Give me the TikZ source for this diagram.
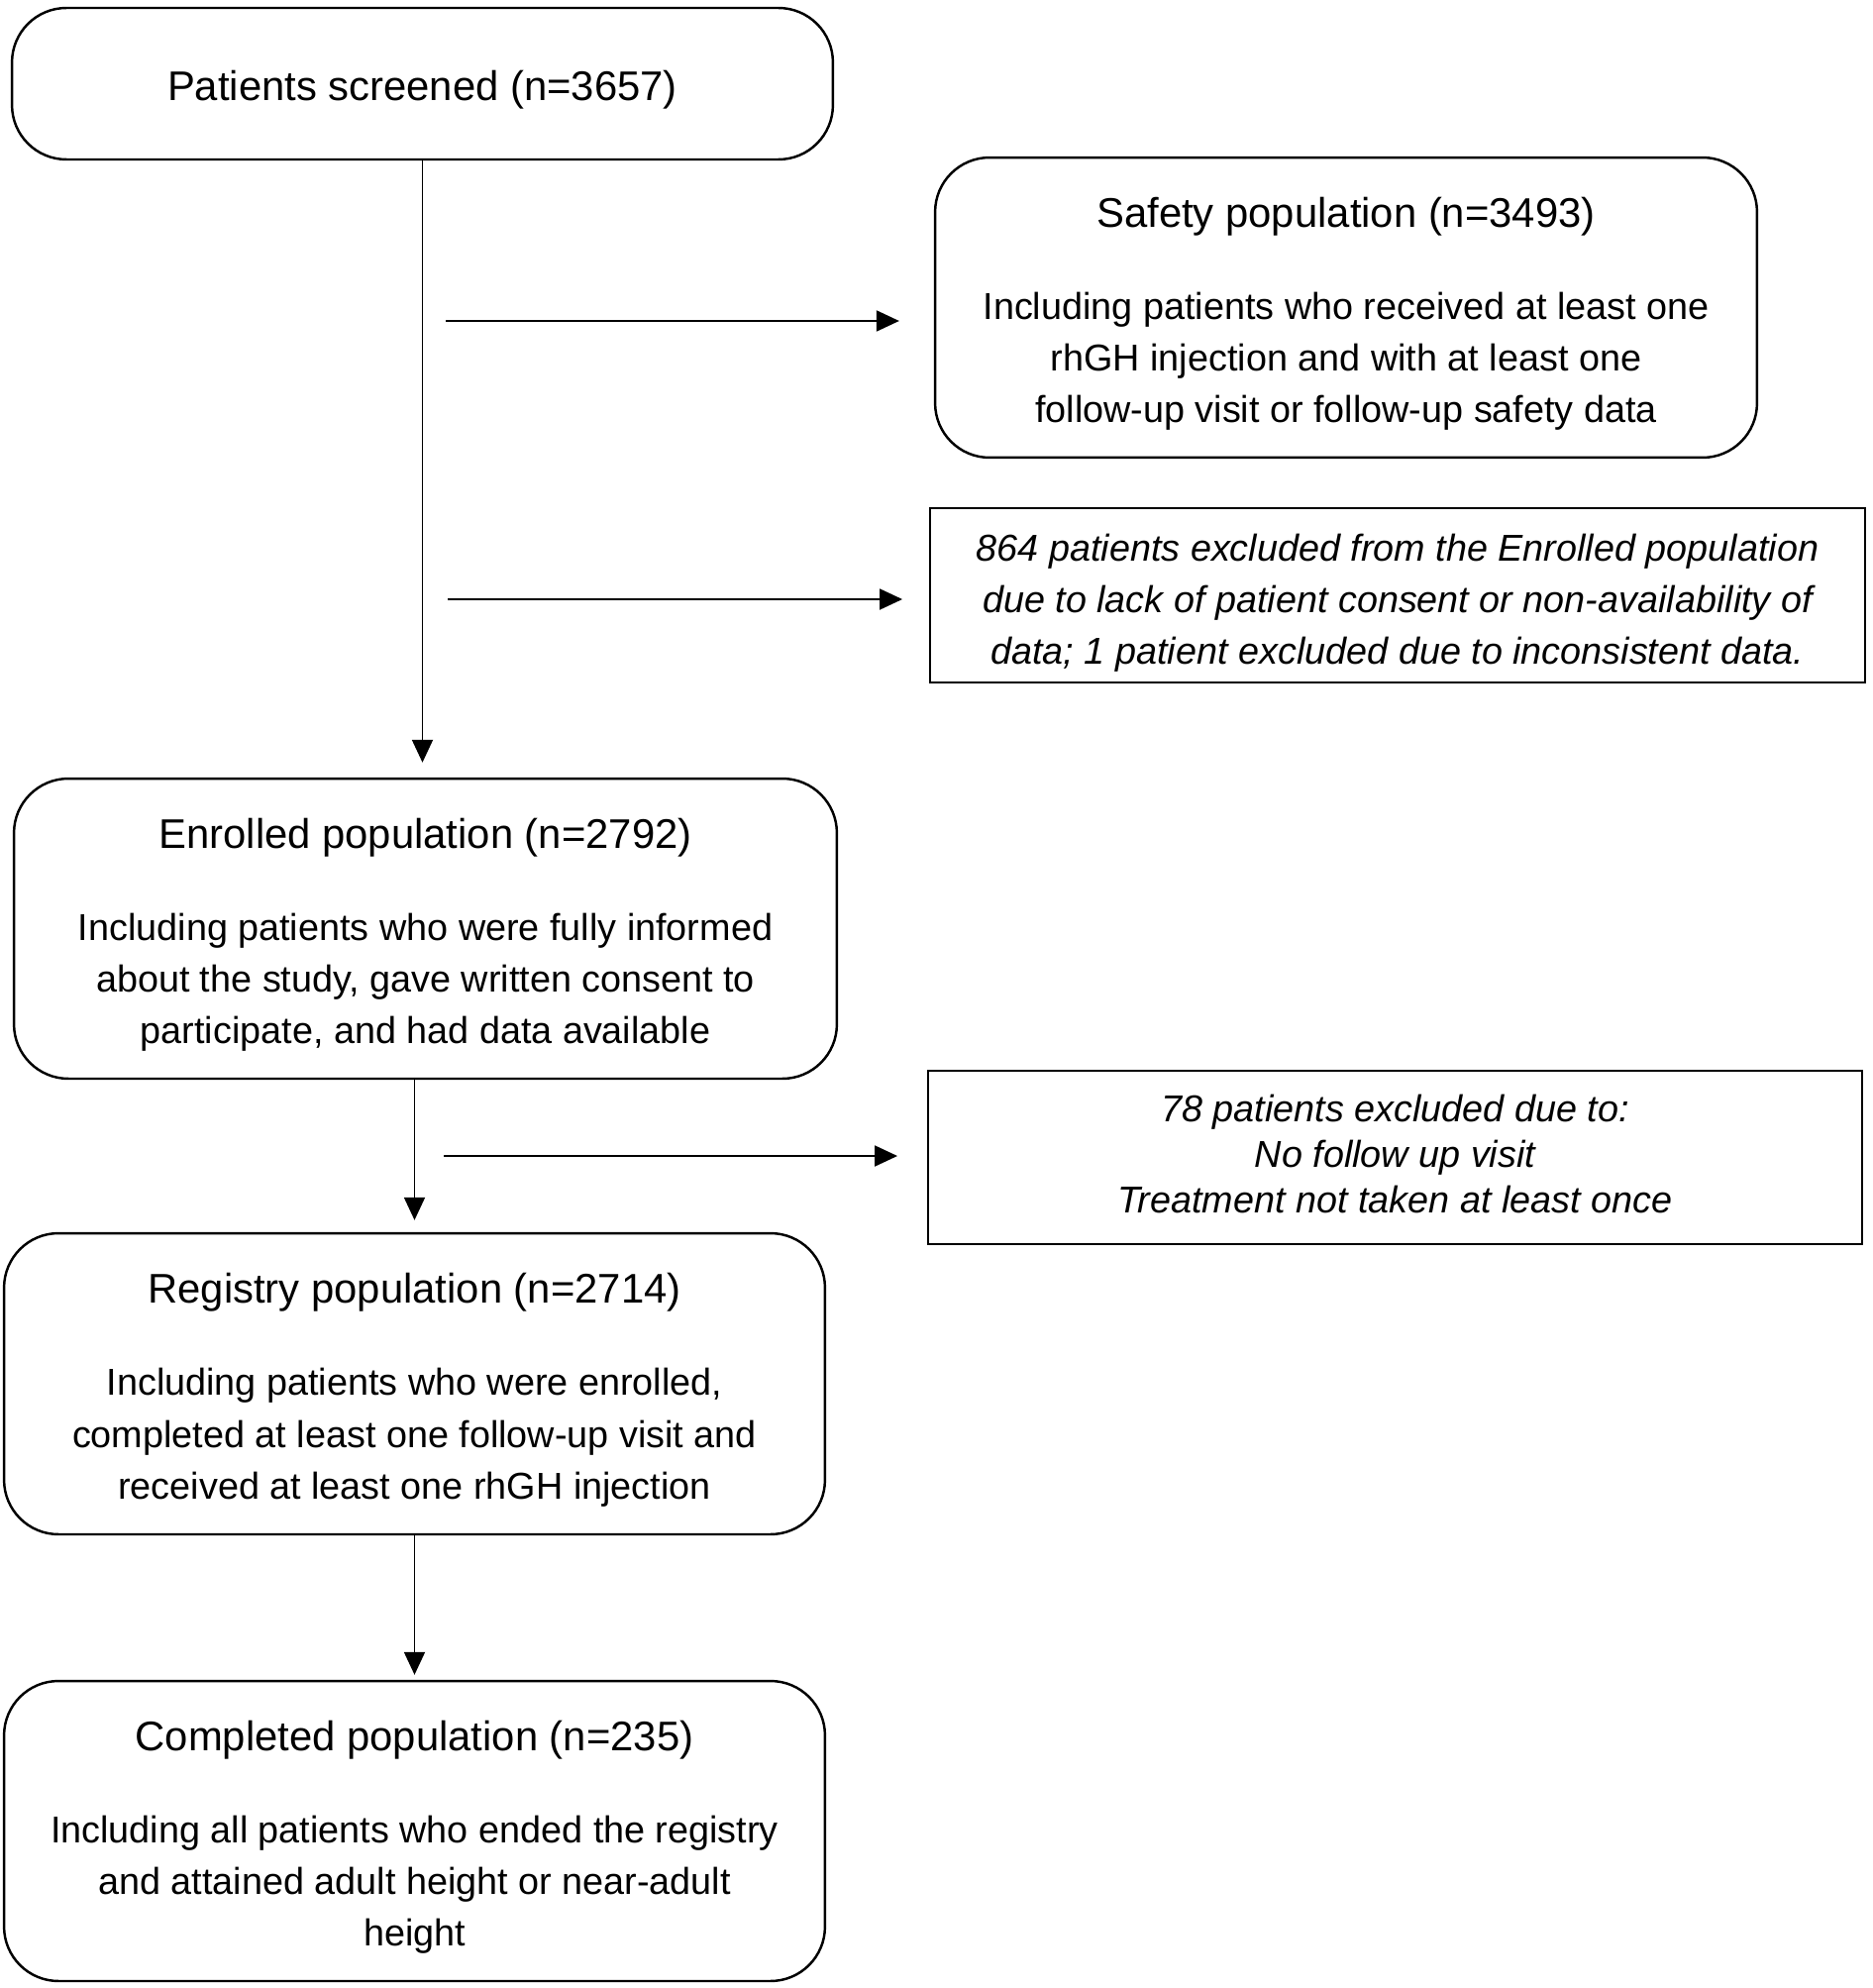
\documentclass[tikz,border=0pt]{standalone}
\usepackage{fontspec}
\setmainfont{Liberation Sans}
\usetikzlibrary{arrows.meta}

% title line of a population box; the strut lowers the text block a little
\newcommand{\poptitle}[1]{{\fontsize{23.8}{29.8}\selectfont\rule{0pt}{24.6pt}#1}}

\tikzset{
  popbox/.style={draw, line width=1.4pt, rounded corners=1.1cm, align=center,
    inner sep=0pt, font=\fontsize{21.5}{29.8}\selectfont},
  exclbox/.style={draw, line width=1.2pt, align=center, inner sep=0pt,
    font=\fontsize{21.5}{29.8}\selectfont\itshape},
  flow/.style={line width=1.1pt, -{Triangle[length=0.46cm,width=0.42cm]}}
}

\begin{document}
\begin{tikzpicture}[x=0.02cm, y=-0.02cm]
\useasboundingbox (0,0) rectangle (1890,2007);

\node[popbox, minimum width=16.58cm, minimum height=3.06cm] (screened) at (426.5,84.5)
  {\poptitle{Patients screened (n=3657)}};
\node[popbox, minimum width=16.6cm, minimum height=6.06cm] (safety) at (1359,310.5)
  {\poptitle{Safety population (n=3493)}\\[23pt]
   Including patients who received at least one\\
   rhGH injection and with at least one\\
   follow-up visit or follow-up safety data};
\node[exclbox, minimum width=18.88cm, minimum height=3.52cm] (excl1) at (1411,601)
  {\rule{0pt}{24.5pt}864 patients excluded from the Enrolled population\\
   due to lack of patient consent or non-availability of\\
   data; 1 patient excluded due to inconsistent data.};
\node[popbox, minimum width=16.62cm, minimum height=6.06cm] (enrolled) at (429.5,937.5)
  {\poptitle{Enrolled population (n=2792)}\\[23pt]
   Including patients who were fully informed\\
   about the study, gave written consent to\\
   participate, and had data available};
\node[exclbox, minimum width=18.86cm, minimum height=3.5cm,
  font=\fontsize{21.5}{26}\selectfont\itshape] (excl2) at (1408.5,1168.5)
  {78 patients excluded due to:\\
   No follow up visit\\
   Treatment not taken at least once\rule[-4.4pt]{0pt}{0pt}};
\node[popbox, minimum width=16.58cm, minimum height=6.08cm] (registry) at (418.5,1397)
  {\poptitle{Registry population (n=2714)}\\[23pt]
   Including patients who were enrolled,\\
   completed at least one follow-up visit and\\
   received at least one rhGH injection};
\node[popbox, minimum width=16.58cm, minimum height=6.06cm] (completed) at (418.5,1848.5)
  {\poptitle{Completed population (n=235)}\\[23pt]
   Including all patients who ended the registry\\
   and attained adult height or near-adult\\
   height};

% side arrows
\coordinate (s1) at (450,324);
\coordinate (s2) at (452,605);
\coordinate (s3) at (448,1167);
\draw[flow, shorten >=0.7cm] (s1) -- (s1 -| safety.west);
\draw[flow, shorten >=0.54cm] (s2) -- (s2 -| excl1.west);
\draw[flow, shorten >=0.6cm] (s3) -- (s3 -| excl2.west);

% main flow
\draw[flow, shorten >=0.3cm] (screened.south) -- (screened.south |- enrolled.north);
\draw[flow, shorten >=0.24cm] (registry.north |- enrolled.south) -- (registry.north);
\draw[flow, shorten >=0.1cm] (registry.south) -- (completed.north);

\end{tikzpicture}
\end{document}
